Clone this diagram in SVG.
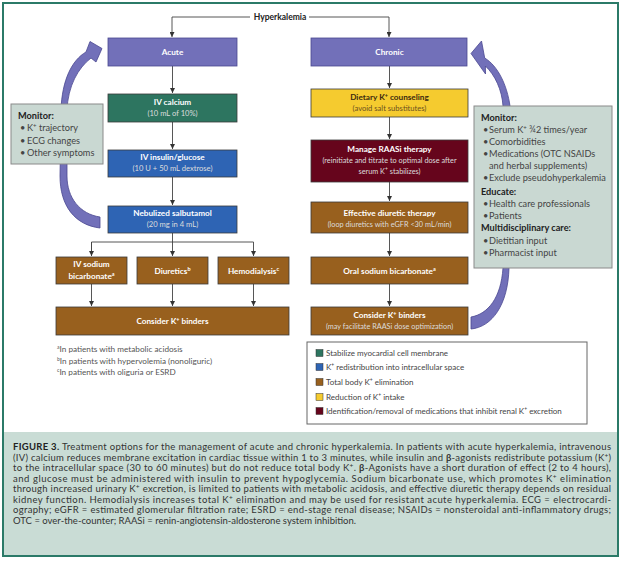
<svg xmlns="http://www.w3.org/2000/svg" width="624" height="566" viewBox="0 0 624 566">
<style>
text{font-family:Lato,"Open Sans","Liberation Sans",sans-serif}
.box{stroke:#3a3a3a;stroke-width:0.8}
.pur{fill:#7270b9;stroke:#4a4890}
.grn{fill:#2d7560}
.blu{fill:#2e64b4}
.brn{fill:#98601e}
.yel{fill:#f5cb2f}
.red{fill:#66051c}
.t{font-size:8.2px;font-weight:700;fill:#fff;text-anchor:middle}
.s{font-size:7.6px;fill:#dcdcdc;text-anchor:middle}
.ty{font-size:8.2px;font-weight:700;fill:#3c2a10;text-anchor:middle}
.sy{font-size:7.6px;fill:#6b5020;text-anchor:middle}
.mon{fill:#c9d8d2;stroke:#8a8a8a;stroke-width:1}
.mh{font-size:9.2px;font-weight:700;fill:#222}
.mt{font-size:9.2px;fill:#444}
.lg{font-size:8px;fill:#444}
.fn{font-size:8.2px;fill:#555}
.cap{font-size:9.5px;fill:#333}
.conn{fill:none;stroke:#444;stroke-width:0.9}
.band{fill:#7270b9;stroke:#4a4890;stroke-width:0.8}
</style>
<defs>
<marker id="ah" viewBox="0 0 6 6" refX="6" refY="3" markerWidth="5" markerHeight="5" orient="auto" markerUnits="userSpaceOnUse">
<path d="M0,0 L6,3 L0,6 Z" fill="#333"/>
</marker>
</defs>
<rect x="0" y="0" width="624" height="566" fill="#fff"/>
<rect x="3" y="432" width="615" height="124" fill="#c9dcd5"/>
<rect x="3" y="3" width="615" height="553" fill="none" stroke="#2b7a68" stroke-width="2"/>

<g id="connectors">
<path class="conn" d="M250,17 H172 V37" marker-end="url(#ah)"/>
<path class="conn" d="M309,17 H389 V37" marker-end="url(#ah)"/>
<path class="conn" d="M172.5,66 V93" marker-end="url(#ah)"/>
<path class="conn" d="M172.5,122 V149" marker-end="url(#ah)"/>
<path class="conn" d="M172.5,177 V205" marker-end="url(#ah)"/>
<path class="conn" d="M172.5,233 V256" marker-end="url(#ah)"/>
<path class="conn" d="M91.5,256 V242 H253.5 V256" marker-end="url(#ah)"/>
<path class="conn" d="M91.5,242 V256" marker-end="url(#ah)"/>
<path class="conn" d="M91.5,284 V306" marker-end="url(#ah)"/>
<path class="conn" d="M172.5,284 V306" marker-end="url(#ah)"/>
<path class="conn" d="M253.5,284 V306" marker-end="url(#ah)"/>
<path class="conn" d="M389.5,66 V88" marker-end="url(#ah)"/>
<path class="conn" d="M389.5,117 V139" marker-end="url(#ah)"/>
<path class="conn" d="M389.5,182 V201" marker-end="url(#ah)"/>
<path class="conn" d="M389.5,233 V256" marker-end="url(#ah)"/>
<path class="conn" d="M389.5,284 V306" marker-end="url(#ah)"/>
<path id="loopLeft" class="band" d="M100,228 C75,225 60,206 60,176 L61,110 C62,80 72,60 86,52 L90,41.5 L102,48.5 L96,62 L91,58 C78,68 68,86 67,110 L67,176 C67,198 80,214 100,217 Z"/>
<path id="loopRight" class="band" d="M471,329 C492,327 508,305 509,268 L510,106 C507,85 498,66 484.7,58 L481.5,41 L471,53.5 L485.5,74 L485.4,66 C495,75 502,90 503,106 L503,268 C501,298 488,314 471,317 Z"/>
</g>

<text x="280" y="20" text-anchor="middle" style="font-size:8.5px;font-weight:700;fill:#222">Hyperkalemia</text>

<g id="acute"><rect class="box pur" x="108" y="38" width="129" height="28"/><text class="t" x="172.5" y="55">Acute</text></g>
<g id="ivcalcium"><rect class="box grn" x="108" y="94" width="129" height="28"/><text class="t" x="172.5" y="104.5">IV calcium</text><text class="s" x="172.5" y="115.5">(10 mL of 10%)</text></g>
<g id="insulin"><rect class="box blu" x="108" y="150" width="129" height="27"/><text class="t" x="172.5" y="160">IV insulin/glucose</text><text class="s" x="172.5" y="171">(10 U + 50 mL dextrose)</text></g>
<g id="salbutamol"><rect class="box blu" x="108" y="206" width="129" height="27"/><text class="t" x="172.5" y="216">Nebulized salbutamol</text><text class="s" x="172.5" y="227">(20 mg in 4 mL)</text></g>
<g id="ivbicarb"><rect class="box brn" x="56" y="257" width="71" height="27"/><text class="t" x="91.5" y="267">IV sodium</text><text class="t" x="91.5" y="279">bicarbonate<tspan baseline-shift="super" font-size="5.5px">a</tspan></text></g>
<g id="diuretics"><rect class="box brn" x="137" y="257" width="71" height="27"/><text class="t" x="172.5" y="273.5">Diuretics<tspan baseline-shift="super" font-size="5.5px">b</tspan></text></g>
<g id="hemodialysis"><rect class="box brn" x="218" y="257" width="71" height="27"/><text class="t" x="253.5" y="273.5">Hemodialysis<tspan baseline-shift="super" font-size="5.5px">c</tspan></text></g>
<g id="bindersLeft"><rect class="box brn" x="56" y="307" width="233" height="28"/><text class="t" x="172.5" y="324">Consider K<tspan baseline-shift="super" font-size="5.5px">+</tspan> binders</text></g>

<g id="chronic"><rect class="box pur" x="311" y="38" width="156" height="28"/><text class="t" x="389.5" y="55">Chronic</text></g>
<g id="dietary"><rect class="box yel" x="311" y="89" width="157" height="28"/><text class="ty" x="389.5" y="99.5">Dietary K<tspan baseline-shift="super" font-size="5.5px">+</tspan> counseling</text><text class="sy" x="389.5" y="111">(avoid salt substitutes)</text></g>
<g id="raasi"><rect class="box red" x="311" y="140" width="157" height="42"/><text class="t" x="389.5" y="152">Manage RAASi therapy</text><text class="s" x="389.5" y="163" style="font-size:7.3px">(reinitiate and titrate to optimal dose after</text><text class="s" x="389.5" y="174" style="font-size:7.3px">serum K<tspan baseline-shift="super" font-size="5px">+</tspan> stabilizes)</text></g>
<g id="diuretic"><rect class="box brn" x="311" y="202" width="157" height="31"/><text class="t" x="389.5" y="215.5">Effective diuretic therapy</text><text class="s" x="389.5" y="226.5" style="font-size:7.3px">(loop diuretics with eGFR &lt;30 mL/min)</text></g>
<g id="oralbicarb"><rect class="box brn" x="311" y="257" width="157" height="27"/><text class="t" x="389.5" y="273.5">Oral sodium bicarbonate<tspan baseline-shift="super" font-size="5.5px">a</tspan></text></g>
<g id="bindersRight"><rect class="box brn" x="311" y="307" width="157" height="28"/><text class="t" x="389.5" y="318">Consider K<tspan baseline-shift="super" font-size="5.5px">+</tspan> binders</text><text class="s" x="389.5" y="328.5" style="font-size:7.3px">(may facilitate RAASi dose optimization)</text></g>

<g id="monitorLeft"><rect class="mon" x="11" y="104" width="92" height="60"/>
<text class="mh" x="18" y="118.5">Monitor:</text>
<text class="mt" x="20" y="131">•</text><text class="mt" x="27" y="131">K<tspan baseline-shift="super" font-size="6px">+</tspan> trajectory</text>
<text class="mt" x="20" y="143.5">•</text><text class="mt" x="27" y="143.5">ECG changes</text>
<text class="mt" x="20" y="156">•</text><text class="mt" x="27" y="156">Other symptoms</text>
</g>

<g id="monitorRight"><rect class="mon" x="474" y="106" width="138" height="162"/>
<text class="mh" x="481" y="121">Monitor:</text>
<text class="mt" x="483" y="132.5">•</text><text class="mt" x="489" y="132.5">Serum K<tspan baseline-shift="super" font-size="6px">+</tspan> ¾2 times/year</text>
<text class="mt" x="483" y="145">•</text><text class="mt" x="489" y="145">Comorbidities</text>
<text class="mt" x="483" y="157">•</text><text class="mt" x="489" y="157">Medications (OTC NSAIDs</text>
<text class="mt" x="489" y="169">and herbal supplements)</text>
<text class="mt" x="483" y="181">•</text><text class="mt" x="489" y="181">Exclude pseudohyperkalemia</text>
<text class="mh" x="481" y="195">Educate:</text>
<text class="mt" x="483" y="207">•</text><text class="mt" x="489" y="207">Health care professionals</text>
<text class="mt" x="483" y="219">•</text><text class="mt" x="489" y="219">Patients</text>
<text class="mh" x="481" y="231">Multidisciplinary care:</text>
<text class="mt" x="483" y="244">•</text><text class="mt" x="489" y="244">Dietitian input</text>
<text class="mt" x="483" y="256">•</text><text class="mt" x="489" y="256">Pharmacist input</text>
</g>

<g id="footnotes">
<text class="fn" x="57" y="352"><tspan baseline-shift="super" font-size="5px">a</tspan>In patients with metabolic acidosis</text>
<text class="fn" x="57" y="363.5"><tspan baseline-shift="super" font-size="5px">b</tspan>In patients with hypervolemia (nonoliguric)</text>
<text class="fn" x="57" y="375"><tspan baseline-shift="super" font-size="5px">c</tspan>In patients with oliguria or ESRD</text>
</g>

<g id="legend">
<rect x="307" y="342" width="280" height="82" fill="#fff" stroke="#666" stroke-width="1"/>
<rect x="316" y="349.5" width="7" height="7" fill="#2d7560" stroke="#333" stroke-width="0.5"/><text class="lg" x="326" y="355.5">Stabilize myocardial cell membrane</text>
<rect x="316" y="363.5" width="7" height="7" fill="#2e64b4" stroke="#333" stroke-width="0.5"/><text class="lg" x="326" y="369.5">K<tspan baseline-shift="super" font-size="5px">+</tspan> redistribution into intracellular space</text>
<rect x="316" y="378.5" width="7" height="7" fill="#98601e" stroke="#333" stroke-width="0.5"/><text class="lg" x="326" y="384.5">Total body K<tspan baseline-shift="super" font-size="5px">+</tspan> elimination</text>
<rect x="316" y="393.5" width="7" height="7" fill="#f5cb2f" stroke="#333" stroke-width="0.5"/><text class="lg" x="326" y="399.5">Reduction of K<tspan baseline-shift="super" font-size="5px">+</tspan> intake</text>
<rect x="316" y="407.5" width="7" height="7" fill="#66051c" stroke="#333" stroke-width="0.5"/><text class="lg" x="326" y="413.5">Identification/removal of medications that inhibit renal K<tspan baseline-shift="super" font-size="5px">+</tspan> excretion</text>
</g>

<g id="caption">
<text class="cap" x="13" y="450" textLength="598" lengthAdjust="spacing"><tspan font-weight="700" fill="#222">FIGURE 3.</tspan> Treatment options for the management of acute and chronic hyperkalemia. In patients with acute hyperkalemia, intravenous</text>
<text class="cap" x="13" y="460.5" textLength="598" lengthAdjust="spacing">(IV) calcium reduces membrane excitation in cardiac tissue within 1 to 3 minutes, while insulin and <tspan font-weight="700">β</tspan>-agonists redistribute potassium (K<tspan baseline-shift="super" font-size="6.5px">+</tspan>)</text>
<text class="cap" x="13" y="471" textLength="598" lengthAdjust="spacing">to the intracellular space (30 to 60 minutes) but do not reduce total body K<tspan baseline-shift="super" font-size="6.5px">+</tspan>. <tspan font-weight="700">β</tspan>-Agonists have a short duration of effect (2 to 4 hours),</text>
<text class="cap" x="13" y="481.5" textLength="598" lengthAdjust="spacing">and glucose must be administered with insulin to prevent hypoglycemia. Sodium bicarbonate use, which promotes K<tspan baseline-shift="super" font-size="6.5px">+</tspan> elimination</text>
<text class="cap" x="13" y="492" textLength="598" lengthAdjust="spacing">through increased urinary K<tspan baseline-shift="super" font-size="6.5px">+</tspan> excretion, is limited to patients with metabolic acidosis, and effective diuretic therapy depends on residual</text>
<text class="cap" x="13" y="502.5" textLength="598" lengthAdjust="spacing">kidney function. Hemodialysis increases total K<tspan baseline-shift="super" font-size="6.5px">+</tspan> elimination and may be used for resistant acute hyperkalemia. ECG = electrocardi-</text>
<text class="cap" x="13" y="513" textLength="598" lengthAdjust="spacing">ography; eGFR = estimated glomerular filtration rate; ESRD = end-stage renal disease; NSAIDs = nonsteroidal anti-inflammatory drugs;</text>
<text class="cap" x="13" y="523.5">OTC = over-the-counter; RAASi = renin-angiotensin-aldosterone system inhibition.</text>
</g>
</svg>
